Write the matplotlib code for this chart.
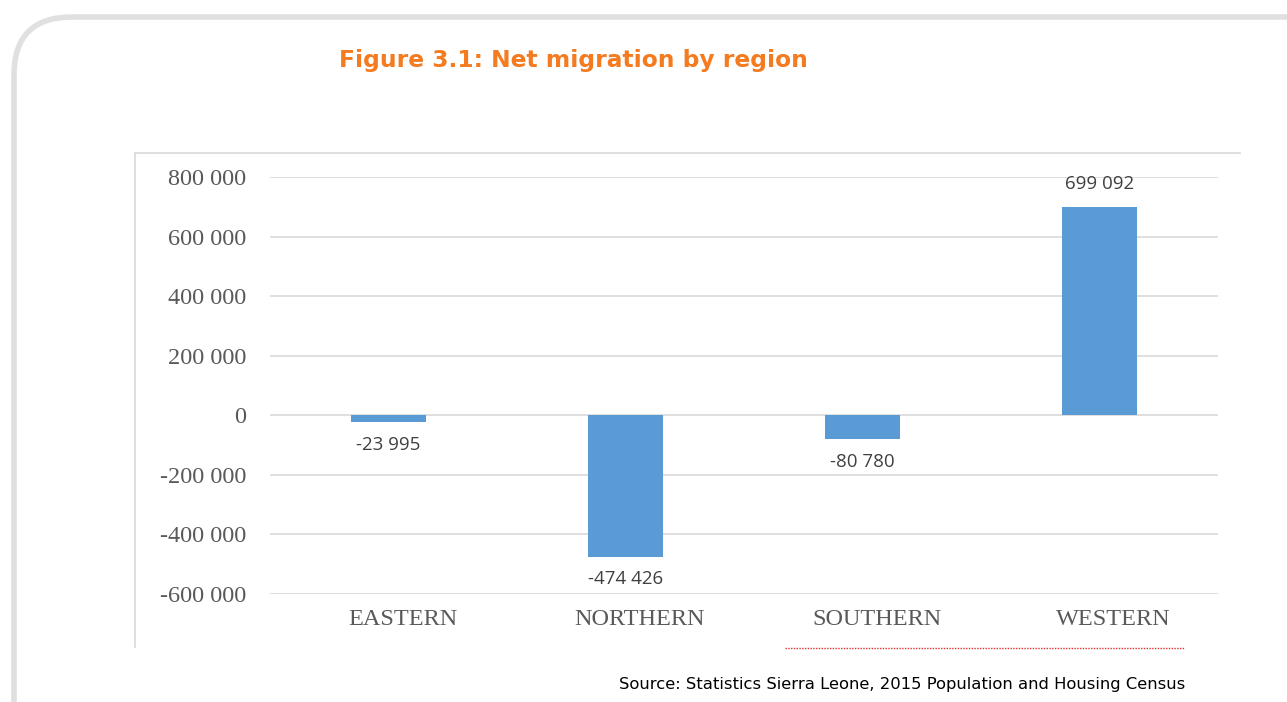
import numpy as np
import matplotlib.pyplot as plt
import matplotlib.transforms as mtransforms
from matplotlib.patches import FancyBboxPatch
from matplotlib.lines import Line2D

# net migration by region, 2015 census
regions = ['EASTERN', 'NORTHERN', 'SOUTHERN', 'WESTERN']
net_migration = [-23995, -474426, -80780, 699092]
y_ticks = [-600000, -400000, -200000, 0, 200000, 400000, 600000, 800000]


def space_fmt(v):
    s = f'{abs(int(v)):,}'.replace(',', ' ')
    return ('-' if v < 0 else '') + s


fig = plt.figure(figsize=(12.87, 7.02), dpi=100)
W, H = 1287, 702

# rounded outer panel
panel = FancyBboxPatch((14 / W, -0.2), 1.2, 1.2 - 17 / H,
                       boxstyle='round,pad=0,rounding_size=0.045',
                       transform=fig.transFigure, facecolor='none',
                       edgecolor='#e0e0e0', linewidth=4, mutation_aspect=W / H,
                       zorder=-1)
fig.patches.append(panel)

# chart frame (top and left edges only)
fig.add_artist(Line2D([135 / W, 1240 / W], [1 - 153 / H, 1 - 153 / H],
                      color='#d9d9d9', lw=1.2, transform=fig.transFigure))
fig.add_artist(Line2D([135 / W, 135 / W], [1 - 153 / H, 1 - 647 / H],
                      color='#d9d9d9', lw=1.2, transform=fig.transFigure))

ax = fig.add_axes([270 / W, 1 - 594 / H, (1218 - 270) / W, (594 - 177) / H])
ax.patch.set_visible(False)
x = np.arange(len(regions))
bars = ax.bar(x, net_migration, width=0.32, color='#5b9bd5', zorder=3)

ax.set_xlim(-0.5, len(regions) - 0.5)
ax.set_ylim(-600000, 800000)
ax.set_yticks(y_ticks)
ax.set_yticklabels([space_fmt(v) for v in y_ticks], family='Liberation Serif',
                   fontsize=17.5, color='#595959')
ax.set_xticks(x)
ax.set_xticklabels(regions, family='Liberation Serif', fontsize=17.5, color='#595959')
ax.tick_params(length=0)
ax.tick_params(axis='y', pad=17)
ax.tick_params(axis='x', pad=11)
# category names sit a little right of the bar centres
shift = mtransforms.ScaledTranslation(14 / 100, 0, fig.dpi_scale_trans)
for lbl in ax.get_xticklabels():
    lbl.set_transform(lbl.get_transform() + shift)
ax.grid(axis='y', color='#d9d9d9', lw=1.2, zorder=0)
for s in ax.spines.values():
    s.set_visible(False)

for xi, v in zip(x, net_migration):
    off = 10 if v > 0 else -10
    ax.annotate(space_fmt(v), (xi, v), xytext=(0, off), textcoords='offset points',
                ha='center', va='bottom' if v > 0 else 'top',
                fontsize=13.5, color='#404040', family='Open Sans')

fig.text(573 / W, 1 - 61 / H, 'Figure 3.1: Net migration by region', ha='center',
         va='center', fontsize=16.8, fontweight='bold', color='#f47b20',
         family='DejaVu Sans')

fig.add_artist(Line2D([785 / W, 1185 / W], [1 - 648 / H, 1 - 648 / H],
                      color='#e03030', lw=1, ls=(0, (1, 1)), transform=fig.transFigure))

fig.text(1185 / W, 1 - 685 / H,
         'Source: Statistics Sierra Leone, 2015 Population and Housing Census',
         ha='right', va='center', fontsize=11.8, color='black', family='DejaVu Sans')

fig.savefig('out.png', dpi=100)
